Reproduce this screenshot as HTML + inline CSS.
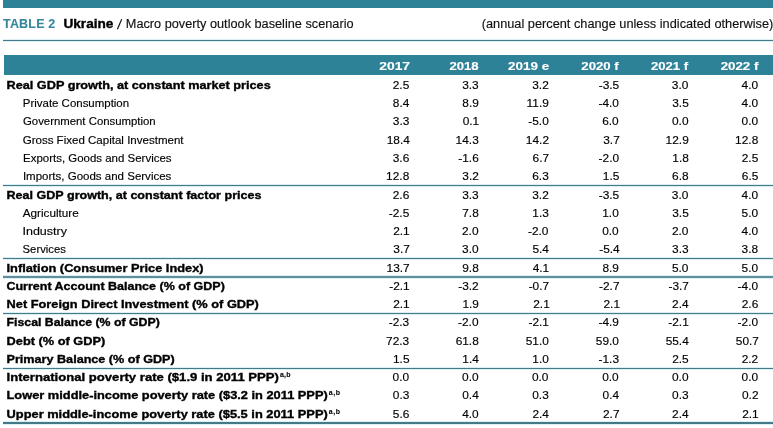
<!DOCTYPE html>
<html><head><meta charset="utf-8"><style>
html,body{margin:0;padding:0;background:#fff;width:773px;height:428px;overflow:hidden}
svg{display:block;font-family:"Liberation Sans",sans-serif;will-change:transform}
</style></head><body>
<svg width="773" height="428" viewBox="0 0 773 428">
<rect x="3" y="0" width="770" height="8" fill="#2e8298"/>
<rect x="4" y="55" width="769" height="20" fill="#2e8298"/>
<rect x="3" y="39" width="770" height="1" fill="#dcf0f4"/>
<rect x="3" y="41" width="770" height="1" fill="#dcf0f4"/>
<rect x="3" y="40" width="770" height="1" fill="#44798a"/>
<rect x="3" y="184" width="770" height="1" fill="#dcf0f4"/>
<rect x="3" y="186" width="770" height="1" fill="#dcf0f4"/>
<rect x="3" y="185" width="770" height="1" fill="#44798a"/>
<rect x="3" y="257" width="770" height="1" fill="#dcf0f4"/>
<rect x="3" y="259" width="770" height="1" fill="#dcf0f4"/>
<rect x="3" y="258" width="770" height="1" fill="#44798a"/>
<rect x="3" y="312" width="770" height="1" fill="#dcf0f4"/>
<rect x="3" y="314" width="770" height="1" fill="#dcf0f4"/>
<rect x="3" y="313" width="770" height="1" fill="#44798a"/>
<rect x="3" y="367" width="770" height="1" fill="#dcf0f4"/>
<rect x="3" y="369" width="770" height="1" fill="#dcf0f4"/>
<rect x="3" y="368" width="770" height="1" fill="#44798a"/>
<rect x="3" y="421" width="770" height="1" fill="#dcf0f4"/>
<rect x="3" y="424" width="770" height="1" fill="#dcf0f4"/>
<rect x="3" y="422" width="770" height="2" fill="#44798a"/>
<rect x="3" y="275" width="770" height="1" fill="#dcf0f4"/>
<rect x="3" y="278" width="770" height="1" fill="#dcf0f4"/>
<rect x="3" y="276" width="770" height="2" fill="#608e9c"/>
<text x="3.02" y="28.00" font-size="12.5" font-weight="bold" fill="#35869b" stroke="#35869b" stroke-width="0.10" textLength="52.25" lengthAdjust="spacing">TABLE 2</text>
<text x="63.44" y="28.00" font-size="12.5" font-weight="bold" fill="#000" stroke="#000" stroke-width="0.35" textLength="50.00" lengthAdjust="spacingAndGlyphs">Ukraine</text>
<line x1="117.4" y1="29.2" x2="121.7" y2="19.3" stroke="#111" stroke-width="1.15"/>
<text x="125.83" y="28.00" font-size="12.5" font-weight="normal" fill="#111" stroke="#111" stroke-width="0.15" textLength="227.73" lengthAdjust="spacingAndGlyphs">Macro poverty outlook baseline scenario</text>
<text x="481.73" y="28.00" font-size="12.5" font-weight="normal" fill="#111" stroke="#111" stroke-width="0.15" textLength="291.55" lengthAdjust="spacingAndGlyphs">(annual percent change unless indicated otherwise)</text>
<text x="410.04" y="70.00" font-size="11" font-weight="bold" fill="#fff" stroke="#fff" stroke-width="0.15" text-anchor="end" textLength="30.76" lengthAdjust="spacingAndGlyphs">2017</text>
<text x="478.66" y="70.00" font-size="11" font-weight="bold" fill="#fff" stroke="#fff" stroke-width="0.15" text-anchor="end" textLength="29.26" lengthAdjust="spacingAndGlyphs">2018</text>
<text x="549.15" y="70.00" font-size="11" font-weight="bold" fill="#fff" stroke="#fff" stroke-width="0.15" text-anchor="end" textLength="41.11" lengthAdjust="spacingAndGlyphs">2019 e</text>
<text x="618.71" y="70.00" font-size="11" font-weight="bold" fill="#fff" stroke="#fff" stroke-width="0.15" text-anchor="end" textLength="37.35" lengthAdjust="spacingAndGlyphs">2020 f</text>
<text x="688.09" y="70.00" font-size="11" font-weight="bold" fill="#fff" stroke="#fff" stroke-width="0.15" text-anchor="end" textLength="37.03" lengthAdjust="spacingAndGlyphs">2021 f</text>
<text x="758.38" y="70.00" font-size="11" font-weight="bold" fill="#fff" stroke="#fff" stroke-width="0.15" text-anchor="end" textLength="37.72" lengthAdjust="spacingAndGlyphs">2022 f</text>
<text x="6.55" y="89.00" font-size="11" font-weight="bold" fill="#000" stroke="#000" stroke-width="0.35" textLength="264.14" lengthAdjust="spacingAndGlyphs">Real GDP growth, at constant market prices</text>
<text x="409.25" y="89.00" font-size="11" font-weight="normal" fill="#000" stroke="#000" stroke-width="0.15" text-anchor="end" textLength="16.52" lengthAdjust="spacingAndGlyphs">2.5</text>
<text x="478.72" y="89.00" font-size="11" font-weight="normal" fill="#000" stroke="#000" stroke-width="0.15" text-anchor="end" textLength="16.52" lengthAdjust="spacingAndGlyphs">3.3</text>
<text x="548.80" y="89.00" font-size="11" font-weight="normal" fill="#000" stroke="#000" stroke-width="0.15" text-anchor="end" textLength="16.52" lengthAdjust="spacingAndGlyphs">3.2</text>
<text x="619.24" y="89.00" font-size="11" font-weight="normal" fill="#000" stroke="#000" stroke-width="0.15" text-anchor="end" textLength="20.49" lengthAdjust="spacingAndGlyphs">-3.5</text>
<text x="688.39" y="89.00" font-size="11" font-weight="normal" fill="#000" stroke="#000" stroke-width="0.15" text-anchor="end" textLength="16.52" lengthAdjust="spacingAndGlyphs">3.0</text>
<text x="758.06" y="89.00" font-size="11" font-weight="normal" fill="#000" stroke="#000" stroke-width="0.15" text-anchor="end" textLength="16.52" lengthAdjust="spacingAndGlyphs">4.0</text>
<text x="22.79" y="107.00" font-size="11" font-weight="normal" fill="#000" stroke="#000" stroke-width="0.15" textLength="106.33" lengthAdjust="spacingAndGlyphs">Private Consumption</text>
<text x="409.36" y="107.00" font-size="11" font-weight="normal" fill="#000" stroke="#000" stroke-width="0.15" text-anchor="end" textLength="16.52" lengthAdjust="spacingAndGlyphs">8.4</text>
<text x="478.87" y="107.00" font-size="11" font-weight="normal" fill="#000" stroke="#000" stroke-width="0.15" text-anchor="end" textLength="16.52" lengthAdjust="spacingAndGlyphs">8.9</text>
<text x="548.87" y="107.00" font-size="11" font-weight="normal" fill="#000" stroke="#000" stroke-width="0.15" text-anchor="end" textLength="22.24" lengthAdjust="spacingAndGlyphs">11.9</text>
<text x="618.98" y="107.00" font-size="11" font-weight="normal" fill="#000" stroke="#000" stroke-width="0.15" text-anchor="end" textLength="20.49" lengthAdjust="spacingAndGlyphs">-4.0</text>
<text x="688.76" y="107.00" font-size="11" font-weight="normal" fill="#000" stroke="#000" stroke-width="0.15" text-anchor="end" textLength="16.52" lengthAdjust="spacingAndGlyphs">3.5</text>
<text x="758.06" y="107.00" font-size="11" font-weight="normal" fill="#000" stroke="#000" stroke-width="0.15" text-anchor="end" textLength="16.52" lengthAdjust="spacingAndGlyphs">4.0</text>
<text x="22.99" y="125.00" font-size="11" font-weight="normal" fill="#000" stroke="#000" stroke-width="0.15" textLength="132.69" lengthAdjust="spacingAndGlyphs">Government Consumption</text>
<text x="409.37" y="125.00" font-size="11" font-weight="normal" fill="#000" stroke="#000" stroke-width="0.15" text-anchor="end" textLength="16.52" lengthAdjust="spacingAndGlyphs">3.3</text>
<text x="479.20" y="125.00" font-size="11" font-weight="normal" fill="#000" stroke="#000" stroke-width="0.15" text-anchor="end" textLength="16.52" lengthAdjust="spacingAndGlyphs">0.1</text>
<text x="548.79" y="125.00" font-size="11" font-weight="normal" fill="#000" stroke="#000" stroke-width="0.15" text-anchor="end" textLength="20.49" lengthAdjust="spacingAndGlyphs">-5.0</text>
<text x="618.70" y="125.00" font-size="11" font-weight="normal" fill="#000" stroke="#000" stroke-width="0.15" text-anchor="end" textLength="16.52" lengthAdjust="spacingAndGlyphs">6.0</text>
<text x="688.49" y="125.00" font-size="11" font-weight="normal" fill="#000" stroke="#000" stroke-width="0.15" text-anchor="end" textLength="16.52" lengthAdjust="spacingAndGlyphs">0.0</text>
<text x="758.16" y="125.00" font-size="11" font-weight="normal" fill="#000" stroke="#000" stroke-width="0.15" text-anchor="end" textLength="16.52" lengthAdjust="spacingAndGlyphs">0.0</text>
<text x="22.66" y="144.00" font-size="11" font-weight="normal" fill="#000" stroke="#000" stroke-width="0.15" textLength="160.89" lengthAdjust="spacingAndGlyphs">Gross Fixed Capital Investment</text>
<text x="409.92" y="144.00" font-size="11" font-weight="normal" fill="#000" stroke="#000" stroke-width="0.15" text-anchor="end" textLength="23.14" lengthAdjust="spacingAndGlyphs">18.4</text>
<text x="478.78" y="144.00" font-size="11" font-weight="normal" fill="#000" stroke="#000" stroke-width="0.15" text-anchor="end" textLength="23.14" lengthAdjust="spacingAndGlyphs">14.3</text>
<text x="549.01" y="144.00" font-size="11" font-weight="normal" fill="#000" stroke="#000" stroke-width="0.15" text-anchor="end" textLength="23.14" lengthAdjust="spacingAndGlyphs">14.2</text>
<text x="619.79" y="144.00" font-size="11" font-weight="normal" fill="#000" stroke="#000" stroke-width="0.15" text-anchor="end" textLength="16.52" lengthAdjust="spacingAndGlyphs">3.7</text>
<text x="688.78" y="144.00" font-size="11" font-weight="normal" fill="#000" stroke="#000" stroke-width="0.15" text-anchor="end" textLength="23.14" lengthAdjust="spacingAndGlyphs">12.9</text>
<text x="758.26" y="144.00" font-size="11" font-weight="normal" fill="#000" stroke="#000" stroke-width="0.15" text-anchor="end" textLength="23.14" lengthAdjust="spacingAndGlyphs">12.8</text>
<text x="23.03" y="162.00" font-size="11" font-weight="normal" fill="#000" stroke="#000" stroke-width="0.15" textLength="148.52" lengthAdjust="spacingAndGlyphs">Exports, Goods and Services</text>
<text x="409.24" y="162.00" font-size="11" font-weight="normal" fill="#000" stroke="#000" stroke-width="0.15" text-anchor="end" textLength="16.52" lengthAdjust="spacingAndGlyphs">3.6</text>
<text x="478.76" y="162.00" font-size="11" font-weight="normal" fill="#000" stroke="#000" stroke-width="0.15" text-anchor="end" textLength="20.49" lengthAdjust="spacingAndGlyphs">-1.6</text>
<text x="549.11" y="162.00" font-size="11" font-weight="normal" fill="#000" stroke="#000" stroke-width="0.15" text-anchor="end" textLength="16.52" lengthAdjust="spacingAndGlyphs">6.7</text>
<text x="619.11" y="162.00" font-size="11" font-weight="normal" fill="#000" stroke="#000" stroke-width="0.15" text-anchor="end" textLength="20.49" lengthAdjust="spacingAndGlyphs">-2.0</text>
<text x="688.83" y="162.00" font-size="11" font-weight="normal" fill="#000" stroke="#000" stroke-width="0.15" text-anchor="end" textLength="16.52" lengthAdjust="spacingAndGlyphs">1.8</text>
<text x="758.25" y="162.00" font-size="11" font-weight="normal" fill="#000" stroke="#000" stroke-width="0.15" text-anchor="end" textLength="16.52" lengthAdjust="spacingAndGlyphs">2.5</text>
<text x="22.93" y="180.00" font-size="11" font-weight="normal" fill="#000" stroke="#000" stroke-width="0.15" textLength="148.43" lengthAdjust="spacingAndGlyphs">Imports, Goods and Services</text>
<text x="409.26" y="180.00" font-size="11" font-weight="normal" fill="#000" stroke="#000" stroke-width="0.15" text-anchor="end" textLength="23.14" lengthAdjust="spacingAndGlyphs">12.8</text>
<text x="478.86" y="180.00" font-size="11" font-weight="normal" fill="#000" stroke="#000" stroke-width="0.15" text-anchor="end" textLength="16.52" lengthAdjust="spacingAndGlyphs">3.2</text>
<text x="548.76" y="180.00" font-size="11" font-weight="normal" fill="#000" stroke="#000" stroke-width="0.15" text-anchor="end" textLength="16.52" lengthAdjust="spacingAndGlyphs">6.3</text>
<text x="619.35" y="180.00" font-size="11" font-weight="normal" fill="#000" stroke="#000" stroke-width="0.15" text-anchor="end" textLength="16.52" lengthAdjust="spacingAndGlyphs">1.5</text>
<text x="688.60" y="180.00" font-size="11" font-weight="normal" fill="#000" stroke="#000" stroke-width="0.15" text-anchor="end" textLength="16.52" lengthAdjust="spacingAndGlyphs">6.8</text>
<text x="758.34" y="180.00" font-size="11" font-weight="normal" fill="#000" stroke="#000" stroke-width="0.15" text-anchor="end" textLength="16.52" lengthAdjust="spacingAndGlyphs">6.5</text>
<text x="6.55" y="199.00" font-size="11" font-weight="bold" fill="#000" stroke="#000" stroke-width="0.35" textLength="254.90" lengthAdjust="spacingAndGlyphs">Real GDP growth, at constant factor prices</text>
<text x="409.27" y="199.00" font-size="11" font-weight="normal" fill="#000" stroke="#000" stroke-width="0.15" text-anchor="end" textLength="16.52" lengthAdjust="spacingAndGlyphs">2.6</text>
<text x="478.72" y="199.00" font-size="11" font-weight="normal" fill="#000" stroke="#000" stroke-width="0.15" text-anchor="end" textLength="16.52" lengthAdjust="spacingAndGlyphs">3.3</text>
<text x="548.80" y="199.00" font-size="11" font-weight="normal" fill="#000" stroke="#000" stroke-width="0.15" text-anchor="end" textLength="16.52" lengthAdjust="spacingAndGlyphs">3.2</text>
<text x="619.24" y="199.00" font-size="11" font-weight="normal" fill="#000" stroke="#000" stroke-width="0.15" text-anchor="end" textLength="20.49" lengthAdjust="spacingAndGlyphs">-3.5</text>
<text x="688.39" y="199.00" font-size="11" font-weight="normal" fill="#000" stroke="#000" stroke-width="0.15" text-anchor="end" textLength="16.52" lengthAdjust="spacingAndGlyphs">3.0</text>
<text x="758.06" y="199.00" font-size="11" font-weight="normal" fill="#000" stroke="#000" stroke-width="0.15" text-anchor="end" textLength="16.52" lengthAdjust="spacingAndGlyphs">4.0</text>
<text x="22.73" y="217.00" font-size="11" font-weight="normal" fill="#000" stroke="#000" stroke-width="0.15" textLength="55.99" lengthAdjust="spacingAndGlyphs">Agriculture</text>
<text x="409.26" y="217.00" font-size="11" font-weight="normal" fill="#000" stroke="#000" stroke-width="0.15" text-anchor="end" textLength="20.49" lengthAdjust="spacingAndGlyphs">-2.5</text>
<text x="478.77" y="217.00" font-size="11" font-weight="normal" fill="#000" stroke="#000" stroke-width="0.15" text-anchor="end" textLength="16.52" lengthAdjust="spacingAndGlyphs">7.8</text>
<text x="548.90" y="217.00" font-size="11" font-weight="normal" fill="#000" stroke="#000" stroke-width="0.15" text-anchor="end" textLength="16.52" lengthAdjust="spacingAndGlyphs">1.3</text>
<text x="618.79" y="217.00" font-size="11" font-weight="normal" fill="#000" stroke="#000" stroke-width="0.15" text-anchor="end" textLength="16.52" lengthAdjust="spacingAndGlyphs">1.0</text>
<text x="688.76" y="217.00" font-size="11" font-weight="normal" fill="#000" stroke="#000" stroke-width="0.15" text-anchor="end" textLength="16.52" lengthAdjust="spacingAndGlyphs">3.5</text>
<text x="758.13" y="217.00" font-size="11" font-weight="normal" fill="#000" stroke="#000" stroke-width="0.15" text-anchor="end" textLength="16.52" lengthAdjust="spacingAndGlyphs">5.0</text>
<text x="22.49" y="235.00" font-size="11" font-weight="normal" fill="#000" stroke="#000" stroke-width="0.15" textLength="44.40" lengthAdjust="spacingAndGlyphs">Industry</text>
<text x="409.71" y="235.00" font-size="11" font-weight="normal" fill="#000" stroke="#000" stroke-width="0.15" text-anchor="end" textLength="16.52" lengthAdjust="spacingAndGlyphs">2.1</text>
<text x="478.52" y="235.00" font-size="11" font-weight="normal" fill="#000" stroke="#000" stroke-width="0.15" text-anchor="end" textLength="16.52" lengthAdjust="spacingAndGlyphs">2.0</text>
<text x="548.49" y="235.00" font-size="11" font-weight="normal" fill="#000" stroke="#000" stroke-width="0.15" text-anchor="end" textLength="20.49" lengthAdjust="spacingAndGlyphs">-2.0</text>
<text x="618.69" y="235.00" font-size="11" font-weight="normal" fill="#000" stroke="#000" stroke-width="0.15" text-anchor="end" textLength="16.52" lengthAdjust="spacingAndGlyphs">0.0</text>
<text x="688.48" y="235.00" font-size="11" font-weight="normal" fill="#000" stroke="#000" stroke-width="0.15" text-anchor="end" textLength="16.52" lengthAdjust="spacingAndGlyphs">2.0</text>
<text x="758.06" y="235.00" font-size="11" font-weight="normal" fill="#000" stroke="#000" stroke-width="0.15" text-anchor="end" textLength="16.52" lengthAdjust="spacingAndGlyphs">4.0</text>
<text x="22.60" y="253.00" font-size="11" font-weight="normal" fill="#000" stroke="#000" stroke-width="0.15" textLength="43.28" lengthAdjust="spacingAndGlyphs">Services</text>
<text x="409.84" y="253.00" font-size="11" font-weight="normal" fill="#000" stroke="#000" stroke-width="0.15" text-anchor="end" textLength="16.52" lengthAdjust="spacingAndGlyphs">3.7</text>
<text x="478.57" y="253.00" font-size="11" font-weight="normal" fill="#000" stroke="#000" stroke-width="0.15" text-anchor="end" textLength="16.52" lengthAdjust="spacingAndGlyphs">3.0</text>
<text x="548.98" y="253.00" font-size="11" font-weight="normal" fill="#000" stroke="#000" stroke-width="0.15" text-anchor="end" textLength="16.52" lengthAdjust="spacingAndGlyphs">5.4</text>
<text x="619.71" y="253.00" font-size="11" font-weight="normal" fill="#000" stroke="#000" stroke-width="0.15" text-anchor="end" textLength="20.49" lengthAdjust="spacingAndGlyphs">-5.4</text>
<text x="688.60" y="253.00" font-size="11" font-weight="normal" fill="#000" stroke="#000" stroke-width="0.15" text-anchor="end" textLength="16.52" lengthAdjust="spacingAndGlyphs">3.3</text>
<text x="758.15" y="253.00" font-size="11" font-weight="normal" fill="#000" stroke="#000" stroke-width="0.15" text-anchor="end" textLength="16.52" lengthAdjust="spacingAndGlyphs">3.8</text>
<text x="6.55" y="272.00" font-size="11" font-weight="bold" fill="#000" stroke="#000" stroke-width="0.35" textLength="197.01" lengthAdjust="spacingAndGlyphs">Inflation (Consumer Price Index)</text>
<text x="409.68" y="272.00" font-size="11" font-weight="normal" fill="#000" stroke="#000" stroke-width="0.15" text-anchor="end" textLength="23.14" lengthAdjust="spacingAndGlyphs">13.7</text>
<text x="478.77" y="272.00" font-size="11" font-weight="normal" fill="#000" stroke="#000" stroke-width="0.15" text-anchor="end" textLength="16.52" lengthAdjust="spacingAndGlyphs">9.8</text>
<text x="549.23" y="272.00" font-size="11" font-weight="normal" fill="#000" stroke="#000" stroke-width="0.15" text-anchor="end" textLength="16.52" lengthAdjust="spacingAndGlyphs">4.1</text>
<text x="618.96" y="272.00" font-size="11" font-weight="normal" fill="#000" stroke="#000" stroke-width="0.15" text-anchor="end" textLength="16.52" lengthAdjust="spacingAndGlyphs">8.9</text>
<text x="688.47" y="272.00" font-size="11" font-weight="normal" fill="#000" stroke="#000" stroke-width="0.15" text-anchor="end" textLength="16.52" lengthAdjust="spacingAndGlyphs">5.0</text>
<text x="758.13" y="272.00" font-size="11" font-weight="normal" fill="#000" stroke="#000" stroke-width="0.15" text-anchor="end" textLength="16.52" lengthAdjust="spacingAndGlyphs">5.0</text>
<text x="6.40" y="290.00" font-size="11" font-weight="bold" fill="#000" stroke="#000" stroke-width="0.35" textLength="218.44" lengthAdjust="spacingAndGlyphs">Current Account Balance (% of GDP)</text>
<text x="409.73" y="290.00" font-size="11" font-weight="normal" fill="#000" stroke="#000" stroke-width="0.15" text-anchor="end" textLength="20.49" lengthAdjust="spacingAndGlyphs">-2.1</text>
<text x="478.73" y="290.00" font-size="11" font-weight="normal" fill="#000" stroke="#000" stroke-width="0.15" text-anchor="end" textLength="20.49" lengthAdjust="spacingAndGlyphs">-3.2</text>
<text x="549.15" y="290.00" font-size="11" font-weight="normal" fill="#000" stroke="#000" stroke-width="0.15" text-anchor="end" textLength="20.49" lengthAdjust="spacingAndGlyphs">-0.7</text>
<text x="619.54" y="290.00" font-size="11" font-weight="normal" fill="#000" stroke="#000" stroke-width="0.15" text-anchor="end" textLength="20.49" lengthAdjust="spacingAndGlyphs">-2.7</text>
<text x="688.92" y="290.00" font-size="11" font-weight="normal" fill="#000" stroke="#000" stroke-width="0.15" text-anchor="end" textLength="20.49" lengthAdjust="spacingAndGlyphs">-3.7</text>
<text x="758.06" y="290.00" font-size="11" font-weight="normal" fill="#000" stroke="#000" stroke-width="0.15" text-anchor="end" textLength="20.49" lengthAdjust="spacingAndGlyphs">-4.0</text>
<text x="6.55" y="308.00" font-size="11" font-weight="bold" fill="#000" stroke="#000" stroke-width="0.35" textLength="252.35" lengthAdjust="spacingAndGlyphs">Net Foreign Direct Investment (% of GDP)</text>
<text x="409.71" y="308.00" font-size="11" font-weight="normal" fill="#000" stroke="#000" stroke-width="0.15" text-anchor="end" textLength="16.52" lengthAdjust="spacingAndGlyphs">2.1</text>
<text x="478.92" y="308.00" font-size="11" font-weight="normal" fill="#000" stroke="#000" stroke-width="0.15" text-anchor="end" textLength="16.52" lengthAdjust="spacingAndGlyphs">1.9</text>
<text x="549.76" y="308.00" font-size="11" font-weight="normal" fill="#000" stroke="#000" stroke-width="0.15" text-anchor="end" textLength="16.52" lengthAdjust="spacingAndGlyphs">2.1</text>
<text x="620.05" y="308.00" font-size="11" font-weight="normal" fill="#000" stroke="#000" stroke-width="0.15" text-anchor="end" textLength="16.52" lengthAdjust="spacingAndGlyphs">2.1</text>
<text x="688.59" y="308.00" font-size="11" font-weight="normal" fill="#000" stroke="#000" stroke-width="0.15" text-anchor="end" textLength="16.52" lengthAdjust="spacingAndGlyphs">2.4</text>
<text x="758.27" y="308.00" font-size="11" font-weight="normal" fill="#000" stroke="#000" stroke-width="0.15" text-anchor="end" textLength="16.52" lengthAdjust="spacingAndGlyphs">2.6</text>
<text x="6.55" y="326.00" font-size="11" font-weight="bold" fill="#000" stroke="#000" stroke-width="0.35" textLength="153.23" lengthAdjust="spacingAndGlyphs">Fiscal Balance (% of GDP)</text>
<text x="409.21" y="326.00" font-size="11" font-weight="normal" fill="#000" stroke="#000" stroke-width="0.15" text-anchor="end" textLength="20.49" lengthAdjust="spacingAndGlyphs">-2.3</text>
<text x="478.52" y="326.00" font-size="11" font-weight="normal" fill="#000" stroke="#000" stroke-width="0.15" text-anchor="end" textLength="20.49" lengthAdjust="spacingAndGlyphs">-2.0</text>
<text x="548.96" y="326.00" font-size="11" font-weight="normal" fill="#000" stroke="#000" stroke-width="0.15" text-anchor="end" textLength="20.49" lengthAdjust="spacingAndGlyphs">-2.1</text>
<text x="619.00" y="326.00" font-size="11" font-weight="normal" fill="#000" stroke="#000" stroke-width="0.15" text-anchor="end" textLength="20.49" lengthAdjust="spacingAndGlyphs">-4.9</text>
<text x="688.79" y="326.00" font-size="11" font-weight="normal" fill="#000" stroke="#000" stroke-width="0.15" text-anchor="end" textLength="20.49" lengthAdjust="spacingAndGlyphs">-2.1</text>
<text x="758.12" y="326.00" font-size="11" font-weight="normal" fill="#000" stroke="#000" stroke-width="0.15" text-anchor="end" textLength="20.49" lengthAdjust="spacingAndGlyphs">-2.0</text>
<text x="6.55" y="345.00" font-size="11" font-weight="bold" fill="#000" stroke="#000" stroke-width="0.35" textLength="98.66" lengthAdjust="spacingAndGlyphs">Debt (% of GDP)</text>
<text x="409.21" y="345.00" font-size="11" font-weight="normal" fill="#000" stroke="#000" stroke-width="0.15" text-anchor="end" textLength="23.14" lengthAdjust="spacingAndGlyphs">72.3</text>
<text x="478.79" y="345.00" font-size="11" font-weight="normal" fill="#000" stroke="#000" stroke-width="0.15" text-anchor="end" textLength="23.14" lengthAdjust="spacingAndGlyphs">61.8</text>
<text x="548.85" y="345.00" font-size="11" font-weight="normal" fill="#000" stroke="#000" stroke-width="0.15" text-anchor="end" textLength="23.14" lengthAdjust="spacingAndGlyphs">51.0</text>
<text x="618.99" y="345.00" font-size="11" font-weight="normal" fill="#000" stroke="#000" stroke-width="0.15" text-anchor="end" textLength="23.14" lengthAdjust="spacingAndGlyphs">59.0</text>
<text x="688.80" y="345.00" font-size="11" font-weight="normal" fill="#000" stroke="#000" stroke-width="0.15" text-anchor="end" textLength="23.14" lengthAdjust="spacingAndGlyphs">55.4</text>
<text x="758.98" y="345.00" font-size="11" font-weight="normal" fill="#000" stroke="#000" stroke-width="0.15" text-anchor="end" textLength="23.14" lengthAdjust="spacingAndGlyphs">50.7</text>
<text x="6.55" y="363.00" font-size="11" font-weight="bold" fill="#000" stroke="#000" stroke-width="0.35" textLength="168.17" lengthAdjust="spacingAndGlyphs">Primary Balance (% of GDP)</text>
<text x="409.55" y="363.00" font-size="11" font-weight="normal" fill="#000" stroke="#000" stroke-width="0.15" text-anchor="end" textLength="16.52" lengthAdjust="spacingAndGlyphs">1.5</text>
<text x="478.82" y="363.00" font-size="11" font-weight="normal" fill="#000" stroke="#000" stroke-width="0.15" text-anchor="end" textLength="16.52" lengthAdjust="spacingAndGlyphs">1.4</text>
<text x="548.85" y="363.00" font-size="11" font-weight="normal" fill="#000" stroke="#000" stroke-width="0.15" text-anchor="end" textLength="16.52" lengthAdjust="spacingAndGlyphs">1.0</text>
<text x="619.03" y="363.00" font-size="11" font-weight="normal" fill="#000" stroke="#000" stroke-width="0.15" text-anchor="end" textLength="20.49" lengthAdjust="spacingAndGlyphs">-1.3</text>
<text x="688.71" y="363.00" font-size="11" font-weight="normal" fill="#000" stroke="#000" stroke-width="0.15" text-anchor="end" textLength="16.52" lengthAdjust="spacingAndGlyphs">2.5</text>
<text x="758.20" y="363.00" font-size="11" font-weight="normal" fill="#000" stroke="#000" stroke-width="0.15" text-anchor="end" textLength="16.52" lengthAdjust="spacingAndGlyphs">2.2</text>
<text x="6.55" y="381.00" font-size="11" font-weight="bold" fill="#000" stroke="#000" stroke-width="0.35" textLength="272.39" lengthAdjust="spacingAndGlyphs">International poverty rate ($1.9 in 2011 PPP)</text>
<text x="279.96" y="376.50" font-size="7" font-weight="bold" fill="#000" stroke="#000" stroke-width="0.10" textLength="10.62" lengthAdjust="spacing">a,b</text>
<text x="409.16" y="381.00" font-size="11" font-weight="normal" fill="#000" stroke="#000" stroke-width="0.15" text-anchor="end" textLength="16.52" lengthAdjust="spacingAndGlyphs">0.0</text>
<text x="478.57" y="381.00" font-size="11" font-weight="normal" fill="#000" stroke="#000" stroke-width="0.15" text-anchor="end" textLength="16.52" lengthAdjust="spacingAndGlyphs">0.0</text>
<text x="548.48" y="381.00" font-size="11" font-weight="normal" fill="#000" stroke="#000" stroke-width="0.15" text-anchor="end" textLength="16.52" lengthAdjust="spacingAndGlyphs">0.0</text>
<text x="618.69" y="381.00" font-size="11" font-weight="normal" fill="#000" stroke="#000" stroke-width="0.15" text-anchor="end" textLength="16.52" lengthAdjust="spacingAndGlyphs">0.0</text>
<text x="688.49" y="381.00" font-size="11" font-weight="normal" fill="#000" stroke="#000" stroke-width="0.15" text-anchor="end" textLength="16.52" lengthAdjust="spacingAndGlyphs">0.0</text>
<text x="758.16" y="381.00" font-size="11" font-weight="normal" fill="#000" stroke="#000" stroke-width="0.15" text-anchor="end" textLength="16.52" lengthAdjust="spacingAndGlyphs">0.0</text>
<text x="6.55" y="399.00" font-size="11" font-weight="bold" fill="#000" stroke="#000" stroke-width="0.35" textLength="321.20" lengthAdjust="spacingAndGlyphs">Lower middle-income poverty rate ($3.2 in 2011 PPP)</text>
<text x="328.87" y="394.50" font-size="7" font-weight="bold" fill="#000" stroke="#000" stroke-width="0.10" textLength="11.21" lengthAdjust="spacing">a,b</text>
<text x="409.37" y="399.00" font-size="11" font-weight="normal" fill="#000" stroke="#000" stroke-width="0.15" text-anchor="end" textLength="16.52" lengthAdjust="spacingAndGlyphs">0.3</text>
<text x="478.79" y="399.00" font-size="11" font-weight="normal" fill="#000" stroke="#000" stroke-width="0.15" text-anchor="end" textLength="16.52" lengthAdjust="spacingAndGlyphs">0.4</text>
<text x="548.75" y="399.00" font-size="11" font-weight="normal" fill="#000" stroke="#000" stroke-width="0.15" text-anchor="end" textLength="16.52" lengthAdjust="spacingAndGlyphs">0.3</text>
<text x="619.08" y="399.00" font-size="11" font-weight="normal" fill="#000" stroke="#000" stroke-width="0.15" text-anchor="end" textLength="16.52" lengthAdjust="spacingAndGlyphs">0.4</text>
<text x="688.61" y="399.00" font-size="11" font-weight="normal" fill="#000" stroke="#000" stroke-width="0.15" text-anchor="end" textLength="16.52" lengthAdjust="spacingAndGlyphs">0.3</text>
<text x="758.51" y="399.00" font-size="11" font-weight="normal" fill="#000" stroke="#000" stroke-width="0.15" text-anchor="end" textLength="16.52" lengthAdjust="spacingAndGlyphs">0.2</text>
<text x="6.52" y="418.00" font-size="11" font-weight="bold" fill="#000" stroke="#000" stroke-width="0.35" textLength="321.23" lengthAdjust="spacingAndGlyphs">Upper middle-income poverty rate ($5.5 in 2011 PPP)</text>
<text x="328.87" y="413.50" font-size="7" font-weight="bold" fill="#000" stroke="#000" stroke-width="0.10" textLength="11.21" lengthAdjust="spacing">a,b</text>
<text x="409.39" y="418.00" font-size="11" font-weight="normal" fill="#000" stroke="#000" stroke-width="0.15" text-anchor="end" textLength="16.52" lengthAdjust="spacingAndGlyphs">5.6</text>
<text x="478.70" y="418.00" font-size="11" font-weight="normal" fill="#000" stroke="#000" stroke-width="0.15" text-anchor="end" textLength="16.52" lengthAdjust="spacingAndGlyphs">4.0</text>
<text x="548.98" y="418.00" font-size="11" font-weight="normal" fill="#000" stroke="#000" stroke-width="0.15" text-anchor="end" textLength="16.52" lengthAdjust="spacingAndGlyphs">2.4</text>
<text x="619.54" y="418.00" font-size="11" font-weight="normal" fill="#000" stroke="#000" stroke-width="0.15" text-anchor="end" textLength="16.52" lengthAdjust="spacingAndGlyphs">2.7</text>
<text x="688.59" y="418.00" font-size="11" font-weight="normal" fill="#000" stroke="#000" stroke-width="0.15" text-anchor="end" textLength="16.52" lengthAdjust="spacingAndGlyphs">2.4</text>
<text x="758.71" y="418.00" font-size="11" font-weight="normal" fill="#000" stroke="#000" stroke-width="0.15" text-anchor="end" textLength="16.52" lengthAdjust="spacingAndGlyphs">2.1</text>
</svg>
</body></html>
